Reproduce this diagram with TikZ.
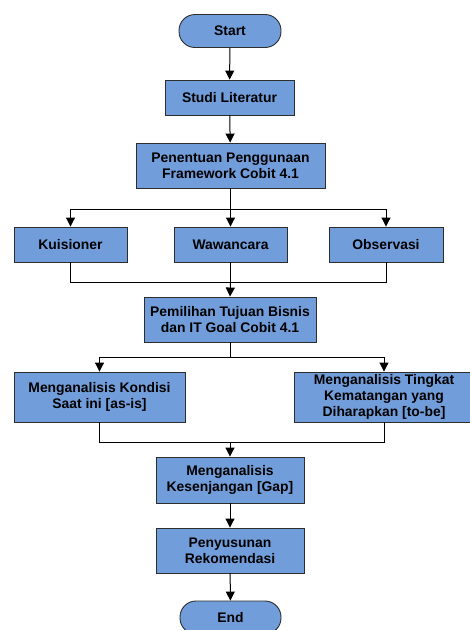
\documentclass[tikz,border=0pt]{standalone}
\usepackage{fontspec}
\setmainfont{Liberation Sans}
\usetikzlibrary{arrows.meta}
\definecolor{boxblue}{RGB}{113,158,219}
\definecolor{boxline}{RGB}{45,45,45}
\tikzset{
  proc/.style={rectangle, draw=boxline, line width=0.9pt, fill=boxblue, align=center,
    font=\fontsize{13.9}{15.8}\selectfont\bfseries, inner sep=1pt},
  term/.style={proc, rounded corners=16pt},
  conn/.style={line width=1pt, draw=black},
  arr/.style={conn, -{Triangle[width=9pt,length=9pt]}}
}
\begin{document}
\begin{tikzpicture}[x=1pt,y=-1pt]
\clip (0,0) rectangle (470,630);
\fill[white] (0,0) rectangle (470,630);
\node[term, minimum width=102pt, minimum height=33pt] (start) at (230,31) {Start};
\node[proc, minimum width=129pt, minimum height=35pt] (studi) at (229.5,97.5) {Studi Literatur};
\node[proc, minimum width=189pt, minimum height=45pt] (pen) at (230.5,165.5) {Penentuan Penggunaan\\Framework Cobit 4.1};
\node[proc, minimum width=113pt, minimum height=35pt] (kuis) at (70.5,244.5) {Kuisioner};
\node[proc, minimum width=113pt, minimum height=35pt] (waw) at (230.5,244.5) {Wawancara};
\node[proc, minimum width=114pt, minimum height=35pt] (obs) at (386,244.5) {Observasi};
\node[proc, minimum width=172pt, minimum height=45pt] (pem) at (230,319.5) {Pemilihan Tujuan Bisnis\\dan IT Goal Cobit 4.1};
\node[proc, minimum width=171pt, minimum height=50pt] (kon) at (99.5,397) {Menganalisis Kondisi\\Saat ini [as-is]};
\node[proc, minimum width=180pt, minimum height=50pt] (tin) at (384,397) {Menganalisis Tingkat\\Kematangan yang\\Diharapkan [to-be]};
\node[proc, minimum width=148pt, minimum height=46pt] (gap) at (230,480) {Menganalisis\\Kesenjangan [Gap]};
\node[proc, minimum width=148pt, minimum height=45pt] (rek) at (230,550.5) {Penyusunan\\Rekomendasi};
\node[term, minimum width=101pt, minimum height=33pt] (end) at (230.5,617.5) {End};

\coordinate (s1) at (230.5,209);
\coordinate (m1) at (230.5,282);
\coordinate (s2) at (230,357);
\coordinate (m2) at (230,442);

\draw[arr] (start) -- (studi);
\draw[arr] (studi) -- (pen);
\draw[conn] (pen.south) -- (s1);
\draw[arr] (s1) -| (kuis.north);
\draw[arr] (s1) -| (obs.north);
\draw[arr] (s1) -- (waw.north);
\draw[conn] (kuis.south) |- (m1);
\draw[conn] (obs.south) |- (m1);
\draw[conn] (waw.south) -- (m1);
\draw[arr] (m1) -- (pem.north);
\draw[conn] (pem.south) -- (s2);
\draw[arr] (s2) -| (kon.north);
\draw[arr] (s2) -| (tin.north);
\draw[conn] (kon.south) |- (m2);
\draw[conn] (tin.south) |- (m2);
\draw[arr] (m2) -- (gap.north);
\draw[arr] (gap) -- (rek);
\draw[arr] (rek) -- (end);
\end{tikzpicture}
\end{document}
